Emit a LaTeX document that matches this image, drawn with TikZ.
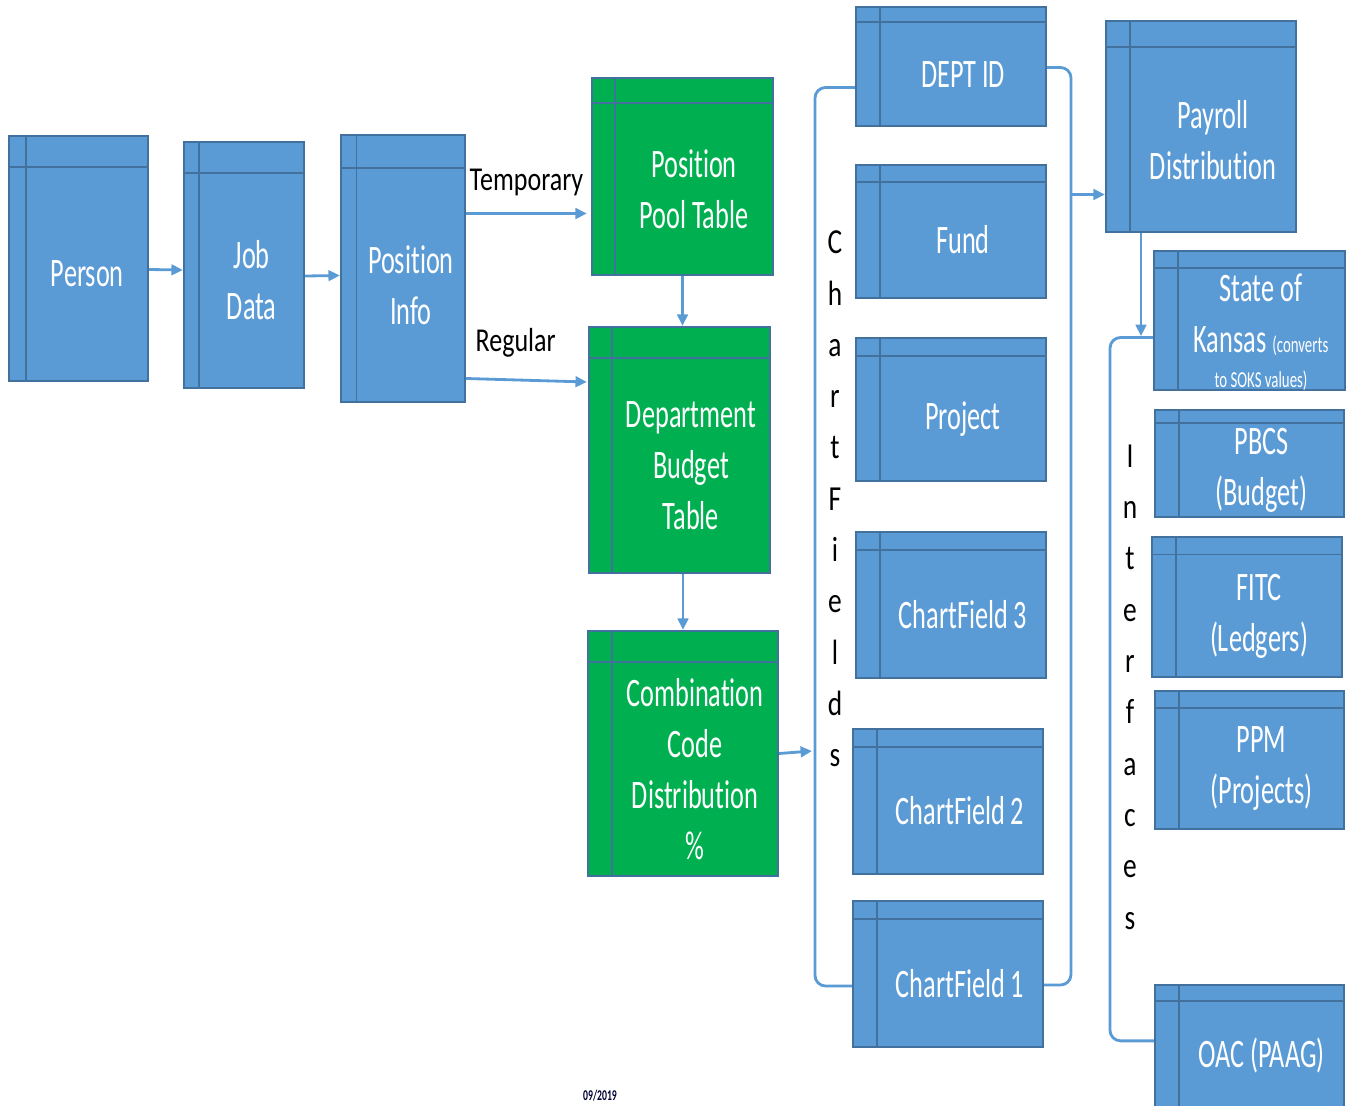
\documentclass[tikz,border=0pt]{standalone}
\usepackage{fontspec}
\setmainfont{Carlito}
\newfontfamily\tblfont[FakeStretch=0.65, Ligatures=CommonOff]{Carlito}
\newfontfamily\notefont[FakeStretch=0.78, Ligatures=CommonOff]{Carlito}
\usetikzlibrary{arrows.meta, positioning, fit, calc}
\definecolor{tblcol}{RGB}{91,155,213}
\definecolor{tbledge}{RGB}{65,113,156}
\definecolor{poolcol}{RGB}{0,176,80}
\definecolor{linkcol}{RGB}{91,155,213}

\begin{document}
\begin{tikzpicture}[
  x=0.02cm, y=-0.02cm,
  tbl/.style={draw=tbledge, fill=tblcol, line width=1.3pt, inner sep=0pt,
    path picture={
      \draw[tbledge, line width=1.1pt]
        ($(path picture bounding box.north west)!0.125!(path picture bounding box.south west)$) --
        ($(path picture bounding box.north east)!0.125!(path picture bounding box.south east)$);
      \draw[tbledge, line width=1.1pt]
        ($(path picture bounding box.north west)!0.125!(path picture bounding box.north east)$) --
        ($(path picture bounding box.south west)!0.125!(path picture bounding box.south east)$);
    }},
  pool/.style={tbl, fill=poolcol},
  lbl/.style={font=\tblfont\fontsize{23}{29}\selectfont, text=white,
              align=center, inner sep=0pt},
  note/.style={font=\notefont\fontsize{19}{23}\selectfont, text=black,
               inner sep=0pt},
  vtxt/.style={font=\notefont\fontsize{20}{29.2}\selectfont, align=center,
               inner sep=0pt},
  arr/.style={-{Triangle[length=6.5pt, width=6pt]}, line width=1.6pt, linkcol},
  brk/.style={line width=1.6pt, linkcol, rounded corners=6pt}
]
  \useasboundingbox (0,0) rectangle (1351,1105);

  % employee side
  \node[tbl, fit={(9,136) (148,381)}] (person) {};
  \node[lbl] (person-txt) at ($(person.north west)!0.5625!(person.south east)$) {Person};
  \node[tbl, fit={(184,142) (304,388)}] (job) {};
  \node[lbl] (job-txt) at ($(job.north west)!0.5625!(job.south east)$) {Job\\Data};
  \node[tbl, fit={(341,135) (465,402)}] (posinfo) {};
  \node[lbl] (posinfo-txt) at ($(posinfo.north west)!0.5625!(posinfo.south east)$) {Position\\Info};

  % funding tables
  \node[pool, fit={(592,78) (773,275)}] (ppool) {};
  \node[lbl] (ppool-txt) at ($(ppool.north west)!0.5625!(ppool.south east)$) {Position\\Pool Table};
  \node[pool, fit={(589,327) (770,573)}] (dept) {};
  \node[lbl] (dept-txt) at ($(dept.north west)!0.5625!(dept.south east)$) {Department\\Budget\\Table};
  \node[pool, fit={(588,631) (778,876)}] (comb) {};
  \node[lbl] (comb-txt) at ($(comb.north west)!0.5625!(comb.south east)$) {Combination\\Code\\Distribution\\\%};

  % chartfields
  \node[tbl, fit={(856,7) (1046,126)}] (deptid) {};
  \node[lbl] (deptid-txt) at ($(deptid.north west)!0.5625!(deptid.south east)$) {DEPT ID};
  \node[tbl, fit={(856,165) (1046,298)}] (fund) {};
  \node[lbl] (fund-txt) at ($(fund.north west)!0.5625!(fund.south east)$) {Fund};
  \node[tbl, fit={(856,338) (1046,481)}] (project) {};
  \node[lbl] (project-txt) at ($(project.north west)!0.5625!(project.south east)$) {Project};
  \node[tbl, fit={(856,532) (1046,678)}] (cfthree) {};
  \node[lbl] (cfthree-txt) at ($(cfthree.north west)!0.5625!(cfthree.south east)$) {ChartField 3};
  \node[tbl, fit={(853,729) (1043,874)}] (cftwo) {};
  \node[lbl] (cftwo-txt) at ($(cftwo.north west)!0.5625!(cftwo.south east)$) {ChartField 2};
  \node[tbl, fit={(853,901) (1043,1047)}] (cfone) {};
  \node[lbl] (cfone-txt) at ($(cfone.north west)!0.5625!(cfone.south east)$) {ChartField 1};

  % payroll and interfaces
  \node[tbl, fit={(1106,21) (1296,232)}] (payroll) {};
  \node[lbl] (payroll-txt) at ($(payroll.north west)!0.5625!(payroll.south east)$) {Payroll\\Distribution};
  \node[tbl, fit={(1154,251) (1345,390)}] (sok) {};
  \node[lbl, anchor=north] (sok-txt) at (1261,273)
    {State of\\Kansas {\fontsize{13}{15}\selectfont(converts}\\[-9pt]{\fontsize{13}{15}\selectfont to SOKS values)}};
  \node[tbl, fit={(1155,410) (1344,517)}] (pbcs) {};
  \node[lbl] (pbcs-txt) at ($(pbcs.north west)!0.5625!(pbcs.south east)$) {PBCS\\(Budget)};
  \node[tbl, fit={(1152,537) (1342,677)}] (fitc) {};
  \node[lbl] (fitc-txt) at ($(fitc.north west)!0.5625!(fitc.south east)$) {FITC\\(Ledgers)};
  \node[tbl, fit={(1155,691) (1344,829)}] (ppm) {};
  \node[lbl] (ppm-txt) at ($(ppm.north west)!0.5625!(ppm.south east)$) {PPM\\(Projects)};
  \node[tbl, fit={(1155,985) (1344,1110)}] (oac) {};
  \node[lbl] (oac-txt) at ($(oac.north west)!0.5625!(oac.south east)$) {OAC (PAAG)};

  % flow
  \draw[arr] ($(person.east)+(0,11)$) -- ($(job.west)+(0,5)$);
  \draw[arr] ($(job.east)+(0,11)$) -- ($(posinfo.west)+(0,7)$);
  \draw[arr] ($(posinfo.east)+(0,-55)$) -- ($(ppool.west)+(-4,37)$)
    node[note, midway, above=9.5pt] (temp) {Temporary};
  \draw[arr] ($(posinfo.east)+(0,110)$) -- ($(dept.west)+(-1,-68)$)
    node[note, pos=0.41, above=12pt] (reg) {Regular};
  \draw[arr] (ppool.south) -- (ppool.south |- dept.north);
  \draw[arr] (dept.south -| comb.north) -- (comb.north);

  % chartfield bracket
  \coordinate (cfbar) at (815,500);
  \coordinate (cfrbar) at (1071,500);
  \coordinate (cfin) at (812,751);
  \draw[brk] ($(deptid.west)+(0,21)$) -| (cfbar) |- ($(cfone.west)+(0,12)$);
  \draw[brk] ($(deptid.east)+(0,1)$) -| (cfrbar) |- ($(cfone.east)+(0,11)$);
  \draw[arr] (comb.east) -- (cfin);
  \node[vtxt] (cflbl) at (835,499) {C\\h\\a\\r\\t\\F\\i\\e\\l\\d\\s};

  \coordinate (cfout) at ($(payroll.west)+(-33,68)$);
  \draw[arr] (cfout) -- (cfout -| payroll.west);

  % interfaces bracket
  \coordinate (ifcbar) at (1110,690);
  \coordinate (ifctop) at ($(payroll.south)+(-60,103)$);
  \draw[brk] ($(sok.west)+(0,17)$) -| (ifcbar) |- ($(oac.north west)+(0,57)$);
  \draw[arr] ($(payroll.south)+(-60,0)$) -- (ifctop);
  \node[vtxt] (ifclbl) at (1130,687) {I\\n\\t\\e\\r\\f\\a\\c\\e\\s};

  \node[font=\tblfont\bfseries\fontsize{8.5}{10}\selectfont, text=black!80!blue] (date) at (600,1096) {09/2019};
\end{tikzpicture}
\end{document}
